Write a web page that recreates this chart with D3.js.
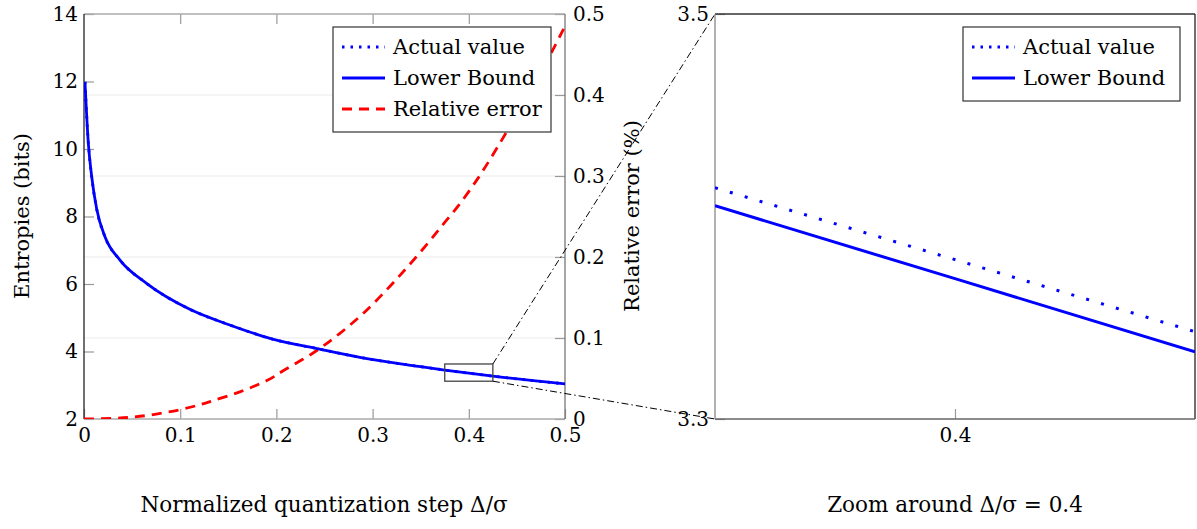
<!DOCTYPE html>
<meta charset="utf-8">
<script src="https://d3js.org/d3.v7.min.js"></script>
<style>
  body { margin: 0; background: #fff; }
  text { font-family: "DejaVu Serif", serif; fill: #000; }
</style>
<div id="my_dataviz"></div>
<script>

// ---- data ----
// left plot: entropies (bits) vs normalized step
var stepX     = [0.001, 0.0045, 0.008, 0.0132, 0.0218, 0.0374, 0.065, 0.11, 0.15, 0.197, 0.245, 0.294, 0.35, 0.375, 0.425, 0.5];
var actualVal = [11.99, 10.17, 9.18, 8.22, 7.40, 6.71, 6.02, 5.25, 4.80, 4.36, 4.07, 3.79, 3.55, 3.45, 3.27, 3.04];
var lowerVal  = [11.99, 10.17, 9.18, 8.22, 7.40, 6.71, 6.02, 5.25, 4.80, 4.36, 4.07, 3.79, 3.55, 3.45, 3.27, 3.04];

// relative error (right axis)
var errX   = [0, 0.03, 0.052, 0.075, 0.1, 0.12, 0.135, 0.162, 0.191, 0.207, 0.24, 0.266, 0.29, 0.315, 0.335, 0.356, 0.3735, 0.389, 0.41, 0.43, 0.45, 0.47, 0.4875, 0.5];
var errVal = [0, 0.0008, 0.0025, 0.006, 0.0115, 0.0175, 0.023, 0.0335, 0.048, 0.0595, 0.083, 0.1058, 0.130, 0.160, 0.186, 0.215, 0.2406, 0.263, 0.298, 0.336, 0.376, 0.418, 0.456, 0.485];

// zoomed plot
var zoomX      = [0.375, 0.4, 0.425];
var zoomActual = [3.4142, 3.3787, 3.3431];
var zoomLower  = [3.4053, 3.3693, 3.3332];

// spy box drawn on the left plot [x0, x1, y0, y1]
var spyBox = [0.375, 0.425, 3.12, 3.63];

var leftTicksY  = [2, 4, 6, 8, 10, 12, 14];
var rightTicksY = [0, 0.1, 0.2, 0.3, 0.4, 0.5];
var ticksX      = [0, 0.1, 0.2, 0.3, 0.4, 0.5];
var zoomTicksY  = [3.3, 3.5];
var zoomTicksX  = [0.4];

var W = 1197, H = 529;
var svg = d3.select("#my_dataviz").append("svg")
    .attr("width", W).attr("height", H);

// scales
var x  = d3.scaleLinear().domain([0, 0.5]).range([84, 565]);
var yL = d3.scaleLinear().domain([2, 14]).range([419, 14]);
var yR = d3.scaleLinear().domain([0, 0.5]).range([419, 14]);
var xz = d3.scaleLinear().domain([0.375, 0.425]).range([715, 1195]);
var yz = d3.scaleLinear().domain([3.3, 3.5]).range([419, 14]);

var defs = svg.append("defs");
defs.append("clipPath").attr("id", "clipL").append("rect")
  .attr("x", 84).attr("y", 14).attr("width", 481).attr("height", 405);
defs.append("clipPath").attr("id", "clipR").append("rect")
  .attr("x", 715).attr("y", 14).attr("width", 480).attr("height", 405);

// gridlines (from right axis)
svg.append("g")
  .selectAll("line")
  .data(rightTicksY.slice(1, -1))
  .enter().append("line")
    .attr("x1", 84).attr("x2", 565)
    .attr("y1", function(d) { return yR(d); })
    .attr("y2", function(d) { return yR(d); })
    .attr("stroke", "#ebebeb").attr("stroke-width", 1);

function styleAxis(g, size) {
  g.attr("font-family", null);
  g.select(".domain").remove();
  g.selectAll(".tick line").attr("stroke", "#999").attr("stroke-width", 1.2);
  g.selectAll(".tick text").style("font-size", size + "px").style("font-family", "'DejaVu Serif', serif");
}

var fmt = function(d) { return d === 0 ? "0" : d3.format(".1f")(d); };

// left axis
svg.append("g").attr("transform", "translate(84,0)")
  .call(d3.axisLeft(yL).tickValues(leftTicksY).tickSizeInner(-10).tickSizeOuter(0).tickPadding(6))
  .call(styleAxis, 20);
// right axis
svg.append("g").attr("transform", "translate(565,0)")
  .call(d3.axisRight(yR).tickValues(rightTicksY).tickFormat(fmt)
    .tickSizeInner(-10).tickSizeOuter(0).tickPadding(8))
  .call(styleAxis, 20);
// bottom axis
svg.append("g").attr("transform", "translate(0,419)")
  .call(d3.axisBottom(x).tickValues(ticksX).tickFormat(fmt)
    .tickSizeInner(-10).tickSizeOuter(0).tickPadding(9))
  .call(styleAxis, 20);
// top ticks
svg.append("g").attr("transform", "translate(0,14)")
  .call(d3.axisTop(x).tickValues(ticksX.slice(1, -1)).tickFormat("").tickSizeInner(-10).tickSizeOuter(0))
  .call(styleAxis, 20);

// left frame
svg.append("line").attr("x1", 84).attr("x2", 565).attr("y1", 14).attr("y2", 14).attr("stroke", "#aaa").attr("stroke-width", 1.3);
svg.append("line").attr("x1", 84).attr("x2", 565).attr("y1", 419).attr("y2", 419).attr("stroke", "#aaa").attr("stroke-width", 1.3);
svg.append("line").attr("x1", 565).attr("x2", 565).attr("y1", 14).attr("y2", 419).attr("stroke", "#777").attr("stroke-width", 1.3);
svg.append("line").attr("x1", 84).attr("x2", 84).attr("y1", 14).attr("y2", 419).attr("stroke", "#222").attr("stroke-width", 1.3);

// curves on left plot
var lineL = d3.line()
  .x(function(d, i) { return x(stepX[i]); })
  .y(function(d) { return yL(d); })
  .curve(d3.curveMonotoneX);
var lineErr = d3.line()
  .x(function(d, i) { return x(errX[i]); })
  .y(function(d) { return yR(d); })
  .curve(d3.curveCatmullRom.alpha(0.5));

var plotL = svg.append("g").attr("clip-path", "url(#clipL)");
plotL.append("path").datum(errVal)
  .attr("fill", "none").attr("stroke", "red").attr("stroke-width", 2.8)
  .style("stroke-dasharray", "10, 7")
  .attr("d", lineErr);
plotL.append("path").datum(actualVal)
  .attr("fill", "none").attr("stroke", "blue").attr("stroke-width", 2.8)
  .style("stroke-dasharray", "2.5, 6")
  .attr("d", lineL);
plotL.append("path").datum(lowerVal)
  .attr("fill", "none").attr("stroke", "blue").attr("stroke-width", 2.8)
  .attr("d", lineL);

// spy box and connectors
svg.append("rect")
  .attr("x", x(spyBox[0])).attr("y", yL(spyBox[3]))
  .attr("width", x(spyBox[1]) - x(spyBox[0]))
  .attr("height", yL(spyBox[2]) - yL(spyBox[3]))
  .attr("fill", "none").attr("stroke", "#444").attr("stroke-width", 1.3);
svg.append("line")
  .attr("x1", x(spyBox[1])).attr("y1", yL(spyBox[3]))
  .attr("x2", xz(0.375)).attr("y2", yz(3.5))
  .attr("stroke", "#000").attr("stroke-width", 1)
  .style("stroke-dasharray", "7, 3, 1.5, 3");
svg.append("line")
  .attr("x1", x(spyBox[1])).attr("y1", yL(spyBox[2]))
  .attr("x2", xz(0.375)).attr("y2", yz(3.3))
  .attr("stroke", "#000").attr("stroke-width", 1)
  .style("stroke-dasharray", "7, 3, 1.5, 3");

// zoom plot axes
svg.append("g").attr("transform", "translate(715,0)")
  .call(d3.axisLeft(yz).tickValues(zoomTicksY).tickFormat(d3.format(".1f")).tickSizeInner(-10).tickSizeOuter(0).tickPadding(6))
  .call(styleAxis, 20);
svg.append("g").attr("transform", "translate(0,419)")
  .call(d3.axisBottom(xz).tickValues(zoomTicksX).tickFormat(d3.format(".1f")).tickSizeInner(-10).tickSizeOuter(0).tickPadding(9))
  .call(styleAxis, 20);

svg.append("line").attr("x1", 715).attr("x2", 1195).attr("y1", 14).attr("y2", 14).attr("stroke", "#333").attr("stroke-width", 1.3);
svg.append("line").attr("x1", 1195).attr("x2", 1195).attr("y1", 14).attr("y2", 419).attr("stroke", "#222").attr("stroke-width", 1.3);
svg.append("line").attr("x1", 715).attr("x2", 1195).attr("y1", 419).attr("y2", 419).attr("stroke", "#666").attr("stroke-width", 1.3);
svg.append("line").attr("x1", 715).attr("x2", 715).attr("y1", 14).attr("y2", 419).attr("stroke", "#888").attr("stroke-width", 1.3);

var lineZ = d3.line()
  .x(function(d, i) { return xz(zoomX[i]); })
  .y(function(d) { return yz(d); });
var plotR = svg.append("g").attr("clip-path", "url(#clipR)");
plotR.append("path").datum(zoomActual)
  .attr("fill", "none").attr("stroke", "blue").attr("stroke-width", 3)
  .style("stroke-dasharray", "3, 12.5")
  .attr("d", lineZ);
plotR.append("path").datum(zoomLower)
  .attr("fill", "none").attr("stroke", "blue").attr("stroke-width", 3)
  .attr("d", lineZ);

// axis titles
svg.append("text")
  .attr("transform", "translate(29,216) rotate(-90)")
  .style("text-anchor", "middle").style("font-size", "21px")
  .text("Entropies (bits)");
svg.append("text")
  .attr("transform", "translate(639,216) rotate(-90)")
  .style("text-anchor", "middle").style("font-size", "21px")
  .text("Relative error (%)");
svg.append("text")
  .attr("x", 324).attr("y", 512)
  .style("text-anchor", "middle").style("font-size", "21.5px")
  .text("Normalized quantization step Δ/σ");
svg.append("text")
  .attr("x", 955).attr("y", 512)
  .style("text-anchor", "middle").style("font-size", "21.5px")
  .text("Zoom around Δ/σ = 0.4");

// legends
function legend(x0, y0, w, entries) {
  var g = svg.append("g");
  g.append("rect").attr("x", x0).attr("y", y0).attr("width", w).attr("height", 31 * entries.length + 12)
    .attr("fill", "white").attr("stroke", "#333").attr("stroke-width", 1.2);
  entries.forEach(function(e, i) {
    var cy = y0 + 20 + 31 * i;
    g.append("line").attr("x1", x0 + 9).attr("x2", x0 + 52).attr("y1", cy).attr("y2", cy)
      .attr("stroke", e.color).attr("stroke-width", 2.8)
      .style("stroke-dasharray", e.dash);
    g.append("text").attr("x", x0 + 60).attr("y", cy).attr("dy", "0.35em")
      .style("font-size", "21px").text(e.name);
  });
}
legend(333, 27, 218, [
  {name: "Actual value", color: "blue", dash: "2.5, 6"},
  {name: "Lower Bound", color: "blue", dash: null},
  {name: "Relative error", color: "red", dash: "10, 7"}
]);
legend(963, 27, 217, [
  {name: "Actual value", color: "blue", dash: "2.5, 6"},
  {name: "Lower Bound", color: "blue", dash: null}
]);

</script>
